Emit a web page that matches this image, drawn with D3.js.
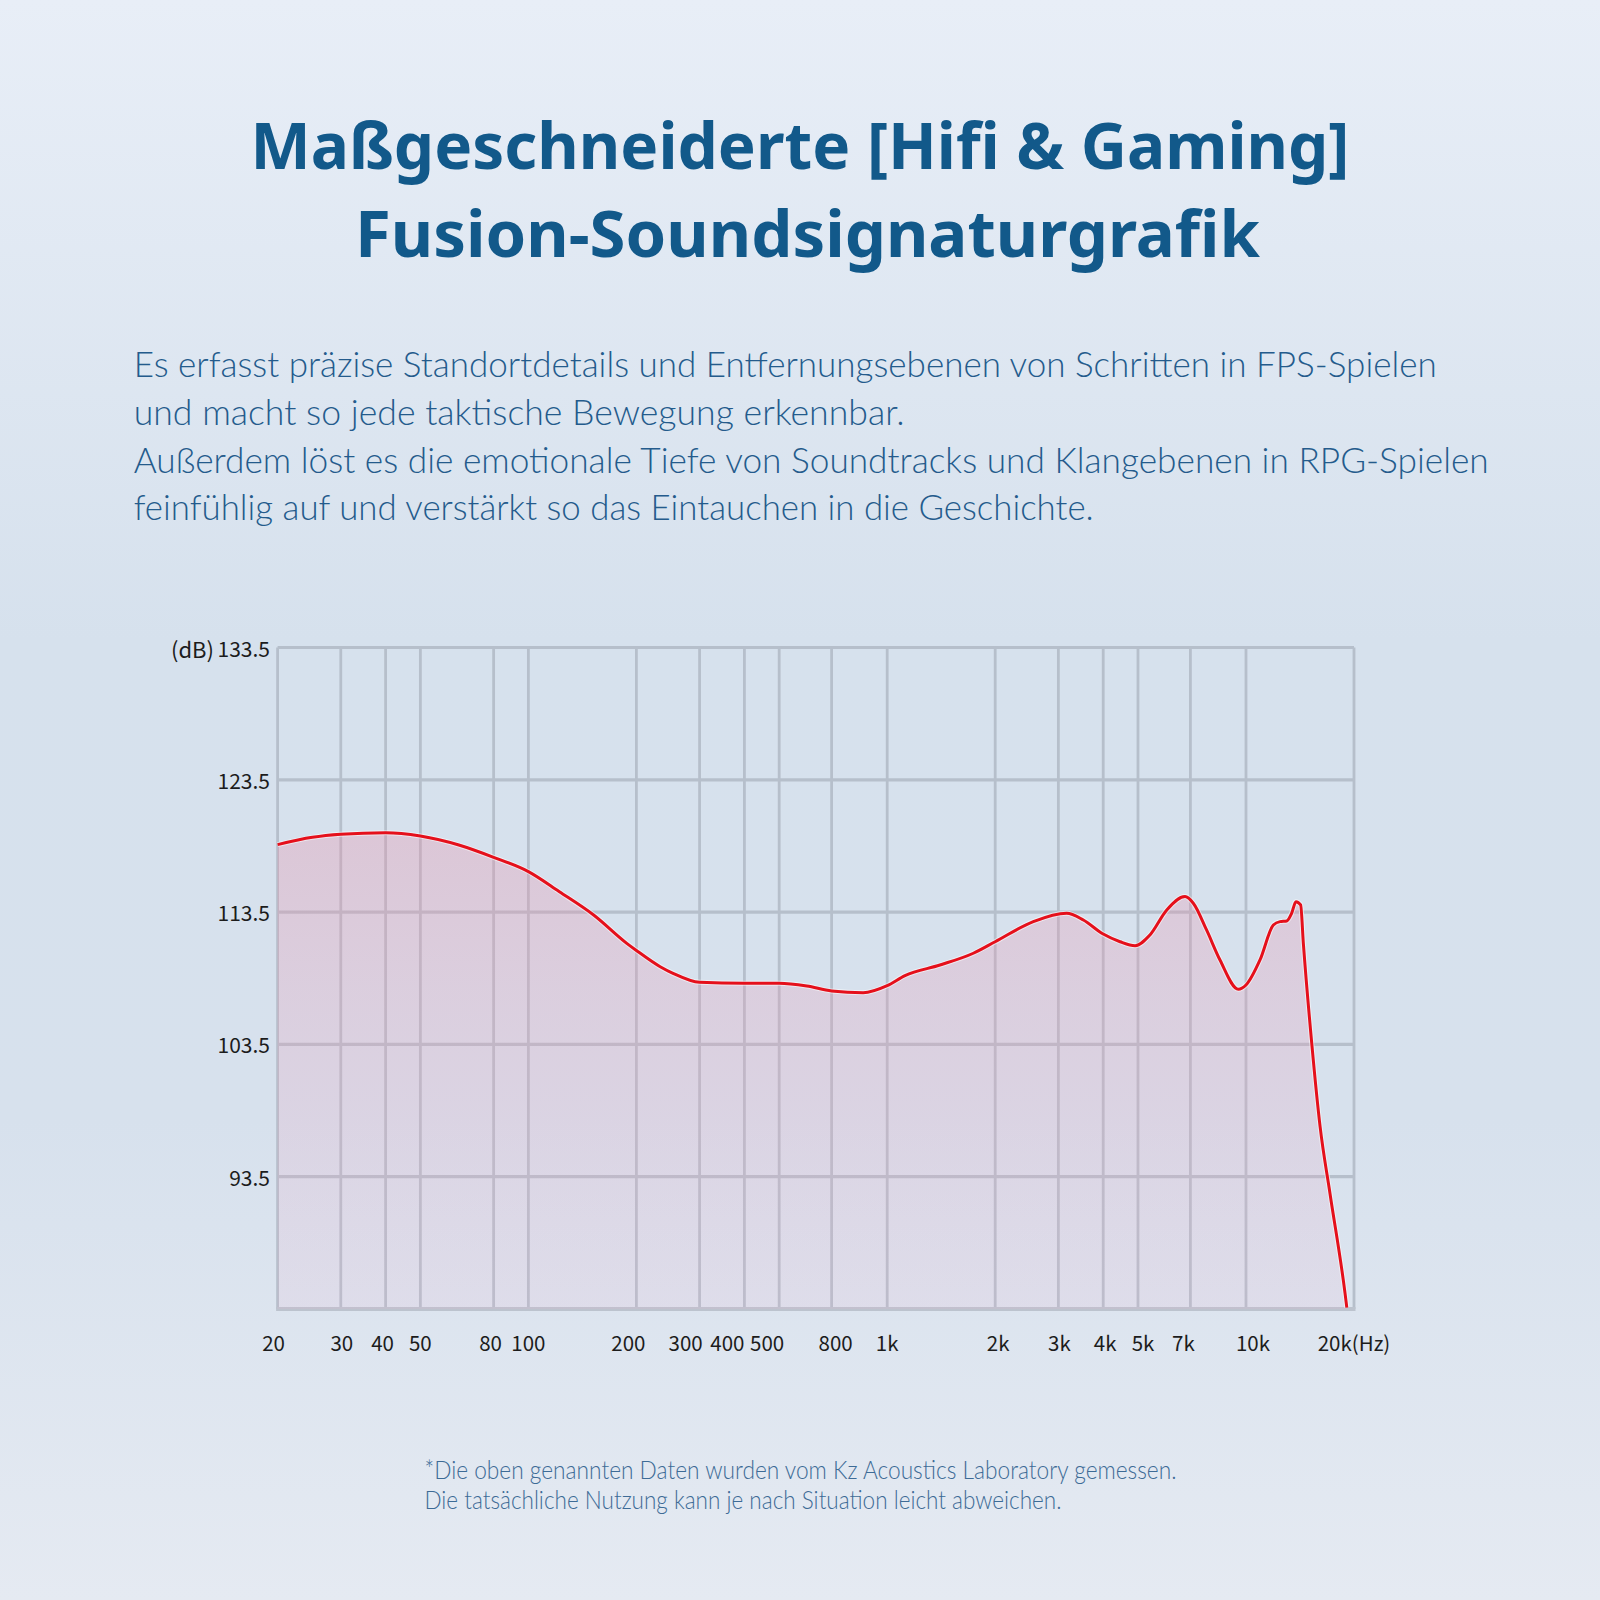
<!DOCTYPE html>
<html>
<head>
<meta charset="utf-8">
<script src="https://cdn.jsdelivr.net/npm/d3@7"></script>
<style>
  html, body { margin: 0; padding: 0; }
  body { width: 1600px; height: 1600px; overflow: hidden; }
</style>
</head>
<body>
<svg id="chart" width="1600" height="1600"></svg>
<script>
// ---- Data ----
const titleLines = ["Maßgeschneiderte [Hifi & Gaming]", "Fusion-Soundsignaturgrafik"];
const paragraphLines = [
  "Es erfasst präzise Standortdetails und Entfernungsebenen von Schritten in FPS-Spielen",
  "und macht so jede taktische Bewegung erkennbar.",
  "Außerdem löst es die emotionale Tiefe von Soundtracks und Klangebenen in RPG-Spielen",
  "feinfühlig auf und verstärkt so das Eintauchen in die Geschichte."
];
const footnoteLines = [
  "*Die oben genannten Daten wurden vom Kz Acoustics Laboratory gemessen.",
  "Die tatsächliche Nutzung kann je nach Situation leicht abweichen."
];
const freqHz = [20, 25, 30, 40, 50, 64, 80, 100, 122, 152, 188, 200, 233, 253, 300, 400, 500, 597, 700, 857,
  1000, 1121, 1403, 1738, 2000, 2554, 3163, 3521, 4000, 4457, 4909, 5399, 6014, 6764, 7131, 7764, 8463,
  9522, 10000, 10940, 11920, 12440, 12990, 13400, 13780, 14200, 14450, 15250, 16090, 17140, 18880, 19100];
const levelDb = [118.6, 119.15, 119.38, 119.5, 119.25, 118.57, 117.64, 116.56, 115.04, 113.28, 111.14, 110.6, 109.37, 108.87, 108.19, 108.12, 108.12, 107.91, 107.54, 107.41,
  107.94, 108.7, 109.5, 110.39, 111.26, 112.78, 113.41, 112.9, 111.84, 111.26, 110.96, 111.77, 113.66, 114.67, 114.17, 112.15, 109.88,
  107.67, 107.99, 109.88, 112.52, 112.78, 112.83, 113.41, 114.29, 114.04, 111.14, 103.58, 97.28, 92.25, 84.7, 83.6];
const xTickValues = [20, 30, 40, 50, 80, 100, 200, 300, 400, 500, 700, 1000, 2000, 3000, 4000, 5000, 7000, 10000, 20000];
const xTickLabels = ["20", "30", "40", "50", "80", "100", "200", "300", "400", "500", "800", "1k", "2k", "3k", "4k", "5k", "7k", "10k", "20k(Hz)"];
const yTickValues = [93.5, 103.5, 113.5, 123.5, 133.5];
const yTickLabels = ["93.5", "103.5", "113.5", "123.5", "133.5"];
const yUnit = "(dB)";

// ---- Layout ----
const svg = d3.select("#chart");
const plot = { left: 277.6, right: 1354, top: 647.5, bottom: 1309 };
const x = d3.scaleLog().domain([20, 20000]).range([plot.left, plot.right]);
const y = d3.scaleLinear().domain([83.5, 133.5]).range([plot.bottom, plot.top]);
// horizontal nudges of x tick labels, as placed in the original artwork
const xLabelNudge = [-4, 1, -3, 0, -3, 0, -8, -14, -17, -12, 4, 0, 3, 1, 2, 5, -7, 7, 0];

const defs = svg.append("defs");
const bg = defs.append("linearGradient").attr("id", "bg").attr("x1", 0).attr("y1", 0).attr("x2", 0).attr("y2", 1);
bg.append("stop").attr("offset", "0%").attr("stop-color", "#e8eef7");
bg.append("stop").attr("offset", "40%").attr("stop-color", "#d6e1ed");
bg.append("stop").attr("offset", "70%").attr("stop-color", "#d7e1ed");
bg.append("stop").attr("offset", "100%").attr("stop-color", "#e5eaf2");

const fillG = defs.append("linearGradient").attr("id", "fillG")
  .attr("gradientUnits", "userSpaceOnUse").attr("x1", 0).attr("y1", 820).attr("x2", 0).attr("y2", plot.bottom);
fillG.append("stop").attr("offset", "0%").attr("stop-color", "rgb(232,140,165)").attr("stop-opacity", 0.32);
fillG.append("stop").attr("offset", "100%").attr("stop-color", "rgb(232,175,205)").attr("stop-opacity", 0.14);

svg.append("rect").attr("width", 1600).attr("height", 1600).attr("fill", "url(#bg)");

// ---- Title ----
const titleColor = "#12598a";
svg.append("text").attr("x", 800).attr("y", 169).attr("text-anchor", "middle")
  .attr("font-family", "'Noto Sans', 'Open Sans', sans-serif").attr("font-weight", 700)
  .attr("font-size", 64).attr("fill", titleColor)
  .attr("textLength", 1099).attr("lengthAdjust", "spacingAndGlyphs").text(titleLines[0]);
svg.append("text").attr("x", 807.5).attr("y", 257).attr("text-anchor", "middle")
  .attr("font-family", "'Noto Sans', 'Open Sans', sans-serif").attr("font-weight", 700)
  .attr("font-size", 64).attr("fill", titleColor)
  .attr("textLength", 905).attr("lengthAdjust", "spacingAndGlyphs").text(titleLines[1]);

// ---- Paragraph ----
const lightFont = "Lato, 'Open Sans', 'Noto Sans', sans-serif";
const paraBase = [377, 425, 473, 520];
const paraWidth = [1303, 771, 1355, 960];
svg.append("g").selectAll("text").data(paragraphLines).join("text")
  .attr("x", 133.7).attr("y", (d, i) => paraBase[i])
  .attr("font-family", lightFont).attr("font-weight", 300)
  .attr("font-size", 35).attr("fill", "#245b8c")
  .attr("textLength", (d, i) => paraWidth[i]).attr("lengthAdjust", "spacingAndGlyphs")
  .text(d => d);

// ---- Grid ----
const gridColor = "#b6bfcb";
const grid = svg.append("g");
grid.selectAll("line.v").data(xTickValues).join("line").attr("class", "v")
  .attr("x1", d => x(d)).attr("x2", d => x(d))
  .attr("y1", plot.top).attr("y2", plot.bottom)
  .attr("stroke", gridColor).attr("stroke-width", 2.8);
grid.selectAll("line.h").data(yTickValues).join("line").attr("class", "h")
  .attr("x1", plot.left).attr("x2", plot.right)
  .attr("y1", d => y(d)).attr("y2", d => y(d))
  .attr("stroke", gridColor).attr("stroke-width", 3.2);
grid.append("line").attr("x1", plot.left - 1.5).attr("x2", plot.right + 1.5)
  .attr("y1", plot.bottom).attr("y2", plot.bottom)
  .attr("stroke", "#bcc3ce").attr("stroke-width", 4);

// ---- Curve ----
const pts = freqHz.map((f, i) => [f, levelDb[i]]);
const area = d3.area().x(d => x(d[0])).y0(plot.bottom).y1(d => y(d[1])).curve(d3.curveMonotoneX);
const line = d3.line().x(d => x(d[0])).y(d => y(d[1])).curve(d3.curveMonotoneX);
svg.append("path").datum(pts).attr("d", area).attr("fill", "url(#fillG)");
svg.append("path").datum(pts).attr("d", line).attr("fill", "none")
  .attr("stroke", "rgba(255,255,255,0.55)").attr("stroke-width", 5);
svg.append("path").datum(pts).attr("d", line).attr("fill", "none")
  .attr("stroke", "#e5101b").attr("stroke-width", 3).attr("stroke-linejoin", "round");

// ---- Axis labels ----
const axisFont = "'Noto Sans CJK SC', 'Noto Sans', sans-serif";
svg.append("g").selectAll("text").data(xTickValues).join("text")
  .attr("x", (d, i) => x(d) + xLabelNudge[i]).attr("y", 1351).attr("text-anchor", "middle")
  .attr("font-family", axisFont).attr("font-size", 20.5).attr("fill", "#1c1c1c")
  .text((d, i) => xTickLabels[i]);
svg.append("g").selectAll("text").data(yTickValues).join("text")
  .attr("x", 270).attr("y", d => y(d)).attr("text-anchor", "end").attr("dominant-baseline", "central")
  .attr("font-family", axisFont).attr("font-size", 21).attr("fill", "#1c1c1c")
  .text((d, i) => yTickLabels[i]);
svg.append("text").attr("x", 214).attr("y", y(133.5)).attr("text-anchor", "end").attr("dominant-baseline", "central")
  .attr("font-family", axisFont).attr("font-size", 22).attr("fill", "#1c1c1c").text(yUnit);

// ---- Footnote ----
const footBase = [1479, 1509];
const footWidth = [752, 637];
svg.append("g").selectAll("text").data(footnoteLines).join("text")
  .attr("x", 424.5).attr("y", (d, i) => footBase[i])
  .attr("font-family", lightFont).attr("font-weight", 300)
  .attr("font-size", 25).attr("fill", "#3d6b96")
  .attr("textLength", (d, i) => footWidth[i]).attr("lengthAdjust", "spacingAndGlyphs")
  .text(d => d);
</script>
</body>
</html>
